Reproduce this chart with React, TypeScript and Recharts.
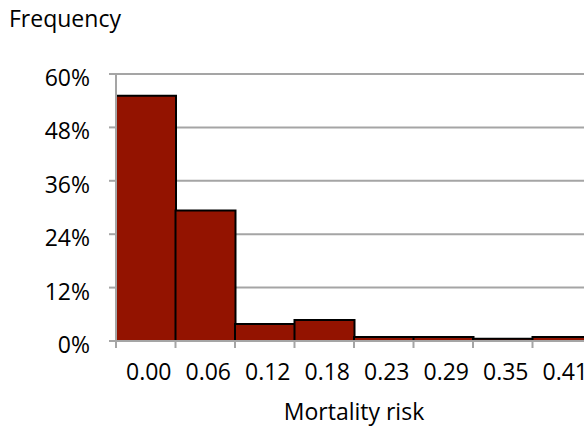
import { BarChart, Bar, XAxis, YAxis, CartesianGrid, Label } from "recharts";

// histogram bins (lower bound of each mortality-risk bin) and share of patients, %
const bins = ["0.00", "0.06", "0.12", "0.18", "0.23", "0.29", "0.35", "0.41"];
const frequency = [55.1, 29.3, 3.8, 4.7, 0.9, 0.9, 0.5, 0.9];
const yTicks = [0, 12, 24, 36, 48, 60];

const FONT = "'Open Sans', sans-serif";
const GRID = "#a5a5a5";

const data = bins.map((bin, i) => ({ bin, frequency: frequency[i] }));

function BinTick(props: any) {
  const { x, y, payload } = props;
  const half = payload.offset ?? 29.75;
  return (
    <g>
      {/* tick mark sits on the left edge of each bin */}
      <line x1={x - half} x2={x - half} y1={y - 7} y2={y} stroke={GRID} strokeWidth={2} />
      <text x={x + 3} y={y + 32} textAnchor="middle" fill="#000" fontSize={23} fontFamily={FONT}>
        {payload.value}
      </text>
    </g>
  );
}

function PercentTick(props: any) {
  const { x, y, payload } = props;
  return (
    <text x={x} y={y + 12} textAnchor="end" fill="#000" fontSize={23} fontFamily={FONT}>
      {`${payload.value}%`}
    </text>
  );
}

export default function App() {
  return (
    <div
      style={{
        position: "fixed",
        left: 0,
        top: 0,
        width: 584,
        height: 428,
        overflow: "hidden",
        background: "#fff",
        fontFamily: FONT,
      }}
    >
      <svg width={200} height={40} style={{ position: "absolute", left: 0, top: 0 }}>
        <text x={9} y={27} fontSize={23} fontFamily={FONT} fill="#000">
          Frequency
        </text>
      </svg>
      <BarChart
        width={600}
        height={428}
        data={data}
        margin={{ top: 74, right: 8, left: 0, bottom: 0 }}
        barCategoryGap={0}
      >
        <CartesianGrid vertical={false} stroke={GRID} strokeWidth={2} />
        <XAxis
          dataKey="bin"
          height={87}
          axisLine={{ stroke: GRID, strokeWidth: 2 }}
          tickLine={false}
          tickSize={7}
          tickMargin={0}
          interval={0}
          tick={<BinTick />}
        >
          <Label
            value="Mortality risk"
            position="insideBottom"
            offset={8}
            fill="#000"
            fontSize={23}
            fontFamily={FONT}
          />
        </XAxis>
        <YAxis
          width={116}
          domain={[0, 60]}
          ticks={yTicks}
          interval={0}
          axisLine={{ stroke: GRID, strokeWidth: 2 }}
          tickLine={{ stroke: GRID, strokeWidth: 2 }}
          tickSize={7}
          tickMargin={19}
          tick={<PercentTick />}
        />
        <Bar
          dataKey="frequency"
          fill="#931300"
          stroke="#000"
          strokeWidth={2}
          isAnimationActive={false}
        />
      </BarChart>
    </div>
  );
}
